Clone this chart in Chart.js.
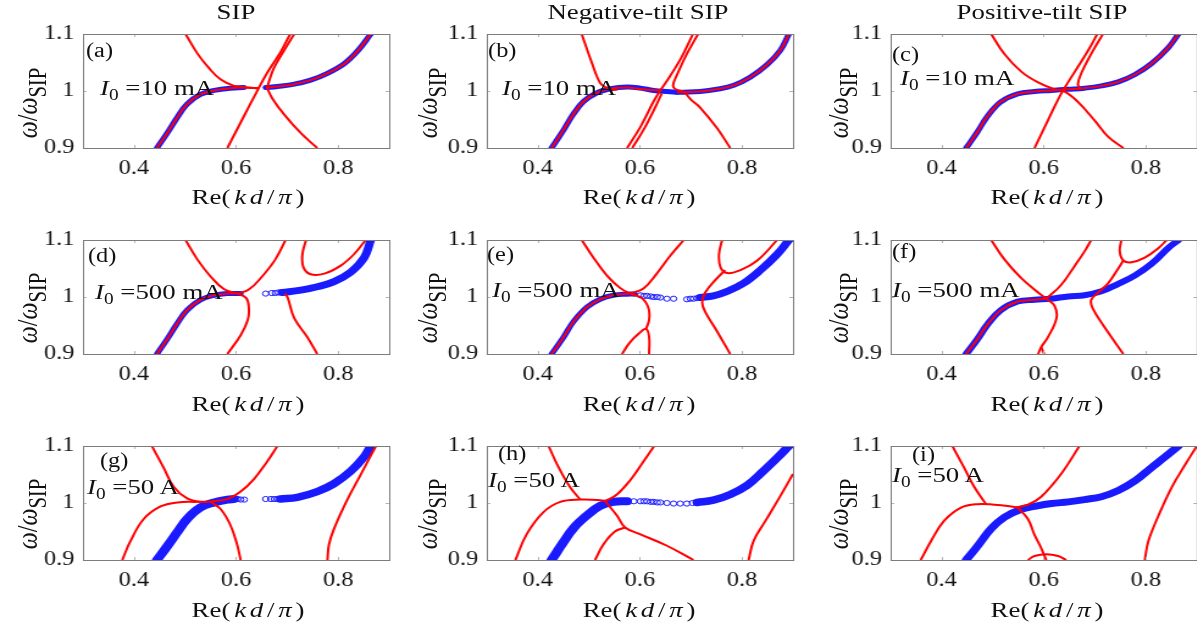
<!DOCTYPE html>
<html>
<head>
<meta charset="utf-8">
<script src="https://cdn.jsdelivr.net/npm/chart.js@4.4.0/dist/chart.umd.min.js"></script>
<style>
  body { margin: 0; background: #fff; width: 1197px; height: 632px; overflow: hidden; }
  #page { position: absolute; left: 0; top: 0; width: 990px; height: 632px; transform-origin: 0 0;
          font-family: "Liberation Serif", "Times New Roman", serif; color: #111; }
  #page canvas { position: absolute; }
  .txt { position: absolute; white-space: nowrap; line-height: 1; }
  .txt sub { font-size: 0.72em; vertical-align: -0.32em; line-height: 0; }
  .ylab sub { font-size: 0.86em; vertical-align: -0.36em; }
  .gap { display: inline-block; width: 0.14em; }
</style>
</head>
<body>
<div id="page"></div>
<script>
// whole figure looks horizontally stretched, so draw narrow and scale x
const S = 1.22;

// axes
const xTicks = [0.4, 0.6, 0.8];
const yTicks = [0.9, 1, 1.1];
const xRange = [0.3, 0.9];
const yRange = [0.9, 1.1];

const titles = ["SIP", "Negative-tilt SIP", "Positive-tilt SIP"];
const tags = ["(a)", "(b)", "(c)", "(d)", "(e)", "(f)", "(g)", "(h)", "(i)"];
const currents = ["10 mA", "10 mA", "10 mA", "500 mA", "500 mA", "500 mA", "50 A", "50 A", "50 A"];

// ---- (a) SIP, 10 mA
const a_left = [[0.445,0.900],[0.465,0.926],[0.485,0.954],[0.504,0.977],[0.530,0.994],[0.557,1.001],[0.589,1.005],[0.615,1.006]];
const a_right = [[0.658,1.006],[0.681,1.008],[0.714,1.012],[0.746,1.019],[0.779,1.031],[0.812,1.048],[0.838,1.070],[0.864,1.100]];
const a_red1 = [[0.445,0.900],[0.465,0.926],[0.485,0.954],[0.504,0.977],[0.530,0.994],[0.557,1.001],[0.589,1.005],[0.615,1.006],[0.645,1.005]];
const a_red2 = [[0.501,1.100],[0.524,1.066],[0.547,1.040],[0.570,1.020],[0.596,1.009],[0.622,1.006],[0.645,1.005]];
const a_red3 = [[0.583,0.900],[0.612,0.950],[0.642,1.001],[0.661,1.032],[0.687,1.068],[0.706,1.100]];
const a_red4 = [[0.714,1.100],[0.694,1.071],[0.674,1.040],[0.665,1.018],[0.661,1.006]];
const a_red5 = [[0.661,1.005],[0.671,0.987],[0.694,0.959],[0.727,0.926],[0.759,0.900]];

// ---- (b) negative tilt, 10 mA
const b_left = [[0.427,0.900],[0.450,0.931],[0.470,0.960],[0.490,0.982],[0.516,0.997],[0.542,1.004],[0.575,1.007],[0.601,1.005],[0.627,1.001],[0.653,0.999],[0.673,0.998]];
const b_right = [[0.673,0.998],[0.686,0.998],[0.718,0.999],[0.751,1.003],[0.784,1.010],[0.816,1.024],[0.849,1.046],[0.875,1.071],[0.892,1.100]];
const b_red1 = [[0.427,0.900],[0.450,0.931],[0.470,0.960],[0.490,0.982],[0.516,0.997],[0.542,1.004],[0.575,1.006],[0.605,1.003],[0.640,1.001]];
const b_red2 = [[0.486,1.100],[0.496,1.074],[0.506,1.049],[0.516,1.025],[0.525,1.011],[0.539,1.004],[0.555,1.002]];
const b_red3 = [[0.575,0.900],[0.601,0.937],[0.627,0.982],[0.640,1.001],[0.659,1.026],[0.682,1.060],[0.704,1.100]];
const b_red4 = [[0.585,0.900],[0.609,0.935],[0.632,0.975],[0.643,0.996]];
const b_red5 = [[0.714,1.100],[0.692,1.065],[0.673,1.029],[0.665,1.010],[0.670,1.003],[0.686,0.999]];
const b_red6 = [[0.688,0.998],[0.700,0.985],[0.718,0.971],[0.751,0.935],[0.777,0.900]];

// ---- (c) positive tilt, 10 mA
const c_main = [[0.448,0.900],[0.470,0.928],[0.490,0.956],[0.516,0.981],[0.549,0.995],[0.582,0.999],[0.615,1.001],[0.648,1.003],[0.680,1.005],[0.713,1.009],[0.746,1.016],[0.779,1.029],[0.811,1.048],[0.844,1.076],[0.864,1.100]];
const c_red2 = [[0.497,1.100],[0.523,1.065],[0.556,1.034],[0.589,1.015],[0.621,1.003],[0.641,0.999],[0.667,0.981],[0.700,0.948],[0.726,0.920],[0.756,0.900]];
const c_red3 = [[0.582,0.900],[0.608,0.948],[0.634,0.995],[0.661,1.034],[0.687,1.071],[0.705,1.100]];
const c_red4 = [[0.716,1.100],[0.693,1.065],[0.674,1.032],[0.667,1.012],[0.671,1.005]];

// ---- (d) SIP, 500 mA
const d_left = [[0.445,0.900],[0.465,0.926],[0.485,0.954],[0.504,0.977],[0.530,0.995],[0.557,1.003],[0.583,1.006],[0.609,1.006]];
const d_dots = [[0.658,1.006],[0.670,1.007],[0.677,1.007],[0.683,1.008]];
const d_right = [[0.690,1.008],[0.727,1.012],[0.759,1.018],[0.792,1.027],[0.825,1.044],[0.851,1.069],[0.864,1.100]];
const d_red1 = [[0.445,0.900],[0.465,0.926],[0.485,0.954],[0.504,0.977],[0.530,0.995],[0.557,1.003],[0.583,1.006],[0.602,1.006]];
const d_red2 = [[0.501,1.100],[0.524,1.066],[0.550,1.036],[0.576,1.014],[0.602,1.006],[0.620,0.998],[0.625,0.980],[0.623,0.960],[0.609,0.933],[0.583,0.900]];
const d_red3 = [[0.602,1.006],[0.625,1.013],[0.651,1.036],[0.677,1.066],[0.697,1.100]];
const d_red4 = [[0.737,1.100],[0.730,1.075],[0.732,1.052],[0.746,1.040],[0.773,1.041],[0.805,1.055],[0.831,1.075],[0.854,1.100]];
const d_red5 = [[0.696,1.006],[0.701,0.999],[0.714,0.963],[0.740,0.929],[0.759,0.900]];

// ---- (e) negative tilt, 500 mA
const e_left = [[0.427,0.900],[0.450,0.929],[0.470,0.957],[0.496,0.982],[0.522,0.996],[0.548,1.003],[0.575,1.005],[0.590,1.005]];
const e_dots = [[0.601,1.003],[0.608,1.002],[0.614,1.002],[0.621,1.001],[0.627,1.000],[0.634,1.000],[0.640,0.999],[0.653,0.997],[0.666,0.997],[0.692,0.996],[0.699,0.997],[0.705,0.997],[0.712,0.998]];
const e_right = [[0.718,0.999],[0.744,1.002],[0.771,1.010],[0.803,1.024],[0.836,1.047],[0.869,1.075],[0.892,1.100]];
const e_red1 = [[0.427,0.900],[0.450,0.929],[0.470,0.957],[0.496,0.982],[0.522,0.996],[0.548,1.003],[0.581,1.006]];
const e_red2 = [[0.486,1.100],[0.509,1.069],[0.535,1.038],[0.561,1.016],[0.581,1.006],[0.604,0.998],[0.617,0.980],[0.618,0.960],[0.612,0.944]];
const e_red3 = [[0.565,0.900],[0.580,0.920],[0.598,0.936],[0.612,0.944],[0.618,0.930],[0.618,0.900]];
const e_red4 = [[0.581,1.006],[0.607,1.015],[0.633,1.041],[0.659,1.072],[0.686,1.100]];
const e_red5 = [[0.761,1.100],[0.755,1.075],[0.758,1.052],[0.771,1.042],[0.797,1.047],[0.830,1.064],[0.869,1.100]];
const e_red6 = [[0.767,1.047],[0.748,1.030],[0.728,1.008],[0.722,0.991],[0.728,0.974],[0.751,0.940],[0.777,0.900]];

// ---- (f) positive tilt, 500 mA
const f_main = [[0.448,0.900],[0.470,0.926],[0.490,0.952],[0.516,0.977],[0.549,0.992],[0.582,0.995],[0.615,0.997],[0.648,1.001],[0.680,1.003],[0.713,1.010],[0.746,1.023],[0.779,1.038],[0.811,1.058],[0.844,1.086],[0.864,1.100]];
const f_red1 = [[0.448,0.900],[0.470,0.926],[0.490,0.952],[0.516,0.977],[0.549,0.992],[0.582,0.995],[0.605,0.997]];
const f_red2 = [[0.497,1.100],[0.523,1.066],[0.556,1.033],[0.589,1.008],[0.605,0.997],[0.621,0.985],[0.625,0.963],[0.608,0.929],[0.595,0.912],[0.589,0.900]];
const f_red3 = [[0.595,0.912],[0.601,0.900]];
const f_red4 = [[0.605,0.997],[0.634,1.021],[0.661,1.055],[0.680,1.080],[0.693,1.100]];
const f_red5 = [[0.752,1.100],[0.749,1.080],[0.756,1.064],[0.772,1.061],[0.798,1.069],[0.825,1.086],[0.841,1.100]];
const f_red6 = [[0.756,1.064],[0.746,1.050],[0.726,1.024],[0.707,1.008],[0.693,0.995],[0.696,0.980],[0.720,0.946],[0.756,0.900]];

// ---- (g) SIP, 50 A
const g_left = [[0.445,0.900],[0.465,0.924],[0.485,0.949],[0.504,0.972],[0.530,0.992],[0.557,1.001],[0.583,1.006],[0.596,1.007]];
const g_dots = [[0.603,1.007],[0.609,1.006],[0.616,1.006],[0.658,1.007],[0.668,1.007],[0.675,1.007],[0.681,1.007]];
const g_right = [[0.687,1.007],[0.720,1.010],[0.759,1.020],[0.792,1.034],[0.825,1.056],[0.851,1.081],[0.864,1.100]];
const g_red1 = [[0.377,0.900],[0.393,0.933],[0.419,0.972],[0.452,0.994],[0.485,1.001],[0.524,1.002],[0.545,1.002]];
const g_red2 = [[0.435,1.100],[0.458,1.062],[0.478,1.028],[0.504,1.008],[0.530,1.002],[0.545,1.002]];
const g_red3 = [[0.545,1.002],[0.583,1.007],[0.609,1.020],[0.635,1.042],[0.661,1.073],[0.681,1.100]];
const g_red4 = [[0.550,1.002],[0.570,0.989],[0.589,0.961],[0.602,0.927],[0.609,0.900]];
const g_red5 = [[0.779,0.900],[0.782,0.927],[0.792,0.955],[0.818,1.006],[0.845,1.051],[0.874,1.100]];

// ---- (h) negative tilt, 50 A
const h_left = [[0.427,0.900],[0.450,0.931],[0.470,0.956],[0.496,0.978],[0.522,0.995],[0.548,1.002],[0.575,1.003]];
const h_dots = [[0.588,1.003],[0.601,1.003],[0.608,1.003],[0.614,1.003],[0.621,1.002],[0.627,1.002],[0.634,1.001],[0.640,1.001],[0.653,1.000],[0.666,0.999],[0.679,0.999],[0.692,0.999],[0.703,1.000]];
const h_right = [[0.712,1.001],[0.744,1.005],[0.777,1.015],[0.810,1.031],[0.842,1.056],[0.869,1.079],[0.892,1.100]];
const h_red1 = [[0.356,0.900],[0.378,0.945],[0.411,0.984],[0.444,1.002],[0.483,1.006],[0.522,1.005],[0.535,1.003]];
const h_red2 = [[0.421,1.100],[0.441,1.062],[0.463,1.028],[0.483,1.006]];
const h_red3 = [[0.532,1.003],[0.555,1.015],[0.581,1.040],[0.607,1.073],[0.628,1.100]];
const h_red4 = [[0.532,1.003],[0.555,0.978],[0.571,0.957],[0.601,0.945],[0.653,0.925],[0.705,0.900]];
const h_red5 = [[0.512,0.900],[0.529,0.928],[0.551,0.950],[0.571,0.957]];
const h_red6 = [[0.813,0.900],[0.823,0.934],[0.849,0.973],[0.875,1.012],[0.900,1.051]];

// ---- (i) positive tilt, 50 A
const i_main = [[0.448,0.900],[0.470,0.924],[0.497,0.955],[0.523,0.975],[0.556,0.989],[0.582,0.994],[0.615,0.999],[0.648,1.002],[0.680,1.006],[0.713,1.011],[0.746,1.022],[0.779,1.039],[0.811,1.062],[0.838,1.081],[0.864,1.100]];
const i_red1 = [[0.359,0.900],[0.379,0.933],[0.405,0.969],[0.438,0.992],[0.470,0.998],[0.503,0.997],[0.536,0.994],[0.549,0.992]];
const i_red2 = [[0.421,1.100],[0.444,1.062],[0.464,1.028],[0.487,0.998]];
const i_red3 = [[0.543,0.992],[0.569,0.997],[0.595,1.011],[0.634,1.051],[0.670,1.100]];
const i_red4 = [[0.549,0.992],[0.569,0.972],[0.582,0.944],[0.595,0.921],[0.605,0.900]];
const i_red5 = [[0.569,0.900],[0.582,0.907],[0.605,0.910],[0.628,0.907],[0.644,0.900]];
const i_red6 = [[0.798,0.900],[0.805,0.933],[0.825,0.978],[0.851,1.028],[0.877,1.067],[0.900,1.100]];

// which curves go in which panel (band = [points, thickness])
const panels = [
  { bands: [[a_left, 5], [a_right, 5]], dots: [], reds: [a_red1, a_red2, a_red3, a_red4, a_right, a_red5] },
  { bands: [[b_left, 5], [b_right, 5]], dots: [], reds: [b_red1, b_red2, b_red3, b_red4, b_red5, b_right, b_red6] },
  { bands: [[c_main, 5]], dots: [], reds: [c_main, c_red2, c_red3, c_red4] },
  { bands: [[d_left, 5], [d_right, 7]], dots: [d_dots], reds: [d_red1, d_red2, d_red3, d_red4, d_red5] },
  { bands: [[e_left, 5], [e_right, 7]], dots: [e_dots], reds: [e_red1, e_red2, e_red3, e_red4, e_red5, e_red6] },
  { bands: [[f_main, 6]], dots: [], reds: [f_red1, f_red2, f_red3, f_red4, f_red5, f_red6] },
  { bands: [[g_left, 8], [g_right, 7.5]], dots: [g_dots], reds: [g_red1, g_red2, g_red3, g_red4, g_red5] },
  { bands: [[h_left, 8], [h_right, 7.5]], dots: [h_dots], reds: [h_red1, h_red2, h_red3, h_red4, h_red5, h_red6] },
  { bands: [[i_main, 7]], dots: [], reds: [i_red1, i_red2, i_red3, i_red4, i_red5, i_red6] }
];

// layout (screen px)
const colLeft = [83, 487, 890];
const rowTop = [29, 235, 441];
const PW = 306, PH = 119;
const tagPos = [[86,50],[488,50],[892,54],[88,255],[487,254],[892,251],[100,460],[498,453],[912,454]];
const curPos = [[100,88],[502,88],[900,78],[95,292],[492,290],[892,290],[87,487],[488,480],[892,475]];
const xLabelX = [248, 639, 1047];
const xLabelY = [197, 404, 610];
const yLabelX = [27, 427, 838];
const yLabelY = [103, 308, 514];

const page = document.getElementById("page");
page.style.transform = "scaleX(" + S + ")";

function addText(html, x, y, size, center, rot, cls) {
  const el = document.createElement("div");
  el.className = "txt" + (cls ? " " + cls : "");
  el.innerHTML = html;
  el.style.fontSize = size + "px";
  el.style.left = (x / S) + "px";
  if (center) {
    el.style.top = y + "px";
    el.style.transform = "translate(-50%,-50%)" + (rot ? " rotate(-90deg)" : "");
  } else {
    el.style.top = (y - size / 2) + "px";
  }
  page.appendChild(el);
}

const boxPlugin = {
  id: "box",
  afterDatasetsDraw(chart) {
    const { ctx, chartArea: a, scales } = chart;
    ctx.save();
    ctx.strokeStyle = "#b4b4b4";
    ctx.lineWidth = 1;
    ctx.beginPath();
    xTicks.forEach(v => {
      const px = Math.round(scales.x.getPixelForValue(v)) + 0.5;
      ctx.moveTo(px, a.bottom); ctx.lineTo(px, a.bottom - 3);
      ctx.moveTo(px, a.top); ctx.lineTo(px, a.top + 3);
    });
    yTicks.forEach(v => {
      const py = Math.round(scales.y.getPixelForValue(v)) + 0.5;
      ctx.moveTo(a.left, py); ctx.lineTo(a.left + 3, py);
      ctx.moveTo(a.right, py); ctx.lineTo(a.right - 3, py);
    });
    ctx.stroke();
    ctx.strokeStyle = "#7c7c7c";
    ctx.strokeRect(Math.round(a.left) + 0.5, Math.round(a.top) + 0.5, Math.round(a.right - a.left), Math.round(a.bottom - a.top));
    ctx.restore();
  }
};

const toXY = arr => arr.map(p => ({ x: p[0], y: p[1] }));
const tickFont = { family: "Liberation Serif", size: 20 };

panels.forEach((p, i) => {
  const col = i % 3, row = Math.floor(i / 3);
  const padL = 50, padT = 14, padR = 6, padB = 40;
  const cv = document.createElement("canvas");
  cv.width = Math.round(PW / S) + padL + padR;
  cv.height = PH + padT + padB;
  cv.style.left = (colLeft[col] / S - padL) + "px";
  cv.style.top = (rowTop[row] - padT) + "px";
  page.appendChild(cv);

  const ds = [];
  p.reds.forEach(r => ds.push({ data: toXY(r), showLine: true, borderColor: "#ff0000", borderWidth: 2,
    pointRadius: 0, tension: 0.4, order: 1 }));
  p.dots.forEach(d => ds.push({ data: toXY(d), showLine: false, pointRadius: 2.6, pointBorderWidth: 1,
    pointBorderColor: "#1a1aff", pointBackgroundColor: "rgba(0,0,0,0)", order: 2 }));
  p.bands.forEach(b => ds.push({ data: toXY(b[0]), showLine: true, borderColor: "#1a1aff", borderWidth: b[1],
    borderCapStyle: "round", borderJoinStyle: "round", pointRadius: 0, tension: 0.4, order: 3 }));

  new Chart(cv, {
    type: "scatter",
    data: { datasets: ds },
    options: {
      responsive: false,
      animation: false,
      events: [],
      layout: { padding: { left: 0, top: padT, right: padR, bottom: 0 } },
      plugins: { legend: { display: false }, tooltip: { enabled: false } },
      scales: {
        x: {
          type: "linear", min: xRange[0], max: xRange[1],
          afterBuildTicks: s => { s.ticks = xTicks.map(v => ({ value: v })); },
          afterFit: s => { s.height = padB; },
          grid: { display: false, drawTicks: false },
          border: { display: false },
          ticks: { font: tickFont, color: "#111", padding: 9, maxRotation: 0, callback: v => String(v) }
        },
        y: {
          type: "linear", min: yRange[0], max: yRange[1],
          afterBuildTicks: s => { s.ticks = yTicks.map(v => ({ value: v })); },
          afterFit: s => { s.width = padL; },
          grid: { display: false, drawTicks: false },
          border: { display: false },
          ticks: { font: tickFont, color: "#111", padding: 7, callback: v => String(v) }
        }
      }
    },
    plugins: [boxPlugin]
  });

  addText(tags[i], tagPos[i][0], tagPos[i][1], 20, false);
  addText("<i>I</i><sub>0</sub> =" + currents[i], curPos[i][0], curPos[i][1], 22, false);
  const g = '<span class="gap"></span>';
  addText("Re(" + g + "<i>k</i>" + g + "<i>d</i>" + g + "/" + g + "<i>&pi;</i>" + g + ")", xLabelX[col], xLabelY[row], 22, true);
  addText("<i>&omega;</i>/<i>&omega;</i><sub>SIP</sub>", yLabelX[col], yLabelY[row], 24, true, true, "ylab");
});

titles.forEach((t, c) => addText(t, [236, 638, 1042][c], 12, 22, true));
</script>
</body>
</html>
